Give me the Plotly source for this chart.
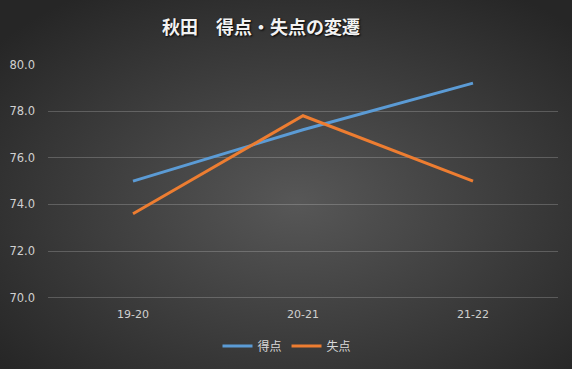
import base64
import plotly.graph_objects as go

seasons = ["19-20", "20-21", "21-22"]
tokuten = [75.0, 77.2, 79.2]
shitten = [73.6, 77.8, 75.0]
series_names = ["得点", "失点"]
title_text = "秋田　得点・失点の変遷"

W, H = 572, 369
ml, mr, mt, mb = 48, 14, 64, 69

svg = f'''<svg xmlns="http://www.w3.org/2000/svg" width="{W}" height="{H}" viewBox="0 0 {W} {H}" preserveAspectRatio="none">
<defs><radialGradient id="g" cx="52%" cy="55%" r="68%">
<stop offset="0%" stop-color="#575757"/><stop offset="100%" stop-color="#262626"/>
</radialGradient></defs>
<rect width="{W}" height="{H}" fill="url(#g)"/></svg>'''
src = "data:image/svg+xml;base64," + base64.b64encode(svg.encode()).decode()

pw = W - ml - mr
ph = H - mt - mb

fig = go.Figure()
fig.add_trace(go.Scatter(x=seasons, y=tokuten, mode="lines", name=series_names[0],
                         line=dict(color="#5B9BD5", width=3)))
fig.add_trace(go.Scatter(x=seasons, y=shitten, mode="lines", name=series_names[1],
                         line=dict(color="#ED7D31", width=3)))

fig.update_layout(
    width=W, height=H,
    margin=dict(l=ml, r=mr, t=mt, b=mb, autoexpand=False),
    paper_bgcolor="#2e2e2e",
    plot_bgcolor="rgba(0,0,0,0)",
    images=[dict(source=src, xref="paper", yref="paper",
                 x=-ml / pw, y=1 + mt / ph, sizex=W / pw, sizey=H / ph,
                 xanchor="left", yanchor="top", sizing="stretch", layer="below")],
    title=dict(text="<b>" + title_text + "</b>", x=261 / W, xref="container", xanchor="center",
               y=1 - 28 / H, yref="container", yanchor="middle",
               font=dict(family="Noto Sans CJK JP", size=18, color="#f2f2f2",
                         shadow="1px 1px 2px #000000")),
    font=dict(family="Noto Sans CJK JP", color="#d9d9d9", size=12),
    showlegend=True,
    legend=dict(orientation="h", x=287 / W, xref="container", xanchor="center",
                y=1 - 346 / H, yref="container", yanchor="middle",
                font=dict(size=12, color="#d9d9d9"), bgcolor="rgba(0,0,0,0)"),
    xaxis=dict(showgrid=False, zeroline=False, showline=False, ticks="",
               ticklabelstandoff=6,
               tickfont=dict(family="DejaVu Sans", size=11, color="#d0d0d0"),
               range=[-0.5, 2.5]),
    yaxis=dict(range=[69.9, 80.02], tickvals=[70, 72, 74, 76, 78, 80], tickformat=".1f",
               showgrid=True, gridcolor="rgba(255,255,255,0.2)", gridwidth=1, zeroline=False,
               showline=False, ticks="", ticklabelstandoff=12,
               tickfont=dict(family="DejaVu Sans", size=11.5, color="#d0d0d0")),
)

fig.write_html("out.html")
